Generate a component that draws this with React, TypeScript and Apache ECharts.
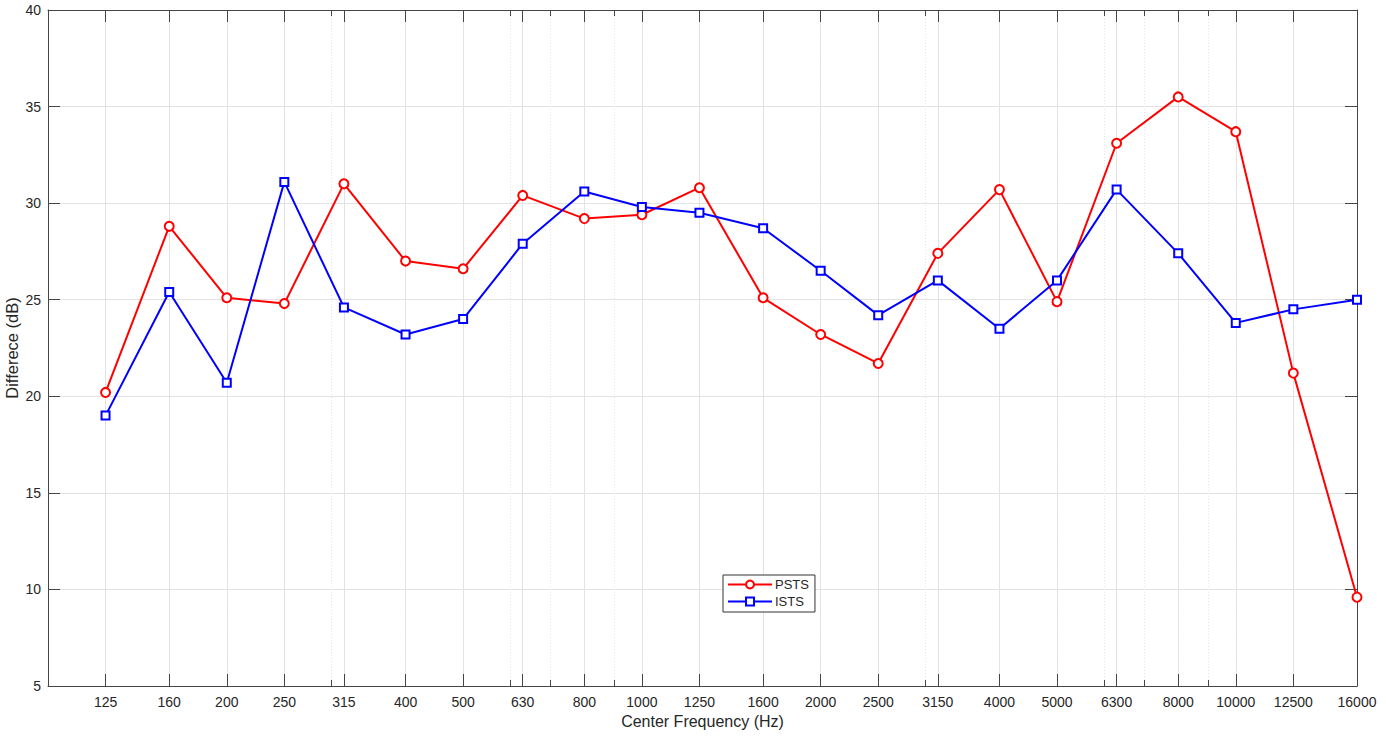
import React, { useEffect, useRef } from 'react';
import * as echarts from 'echarts';

const FREQS = [125, 160, 200, 250, 315, 400, 500, 630, 800, 1000, 1250, 1600, 2000, 2500, 3150, 4000, 5000, 6300, 8000, 10000, 12500, 16000];
const PSTS = [20.2, 28.8, 25.1, 24.8, 31.0, 27.0, 26.6, 30.4, 29.2, 29.4, 30.8, 25.1, 23.2, 21.7, 27.4, 30.7, 24.9, 33.1, 35.5, 33.7, 21.2, 9.6];
const ISTS = [19.0, 25.4, 20.7, 31.1, 24.6, 23.2, 24.0, 27.9, 30.6, 29.8, 29.5, 28.7, 26.5, 24.2, 26.0, 23.5, 26.0, 30.7, 27.4, 23.8, 24.5, 25.0];
const MINOR_FREQS = [100, 200, 300, 400, 500, 600, 700, 800, 900, 1000, 2000, 3000, 4000, 5000, 6000, 7000, 8000, 9000, 10000];
const X_MIN_HZ = 100;
const X_MAX_HZ = 16000;
const Y_MIN = 5;
const Y_MAX = 40;
const Y_STEP = 5;
const Y_NAME = 'Differece (dB)';

const FONT = '"Liberation Sans", Arial, Helvetica, sans-serif';
const TEXT = '#262626';
const AXIS = '#454545';
const GRID = '#e2e2e2';

const lg = (f: number) => Math.log10(f);

export default function App() {
  const ref = useRef<HTMLDivElement>(null);

  useEffect(() => {
    if (!ref.current) return;
    const chart = echarts.init(ref.current, undefined, { renderer: 'svg' });
    const majorVals = FREQS.map(lg);
    const minorVals = MINOR_FREQS.map(lg);
    const xBase = {
      type: 'value' as const,
      min: lg(X_MIN_HZ),
      max: lg(X_MAX_HZ),
      gridIndex: 0,
    };
    chart.setOption({
      animation: false,
      backgroundColor: '#ffffff',
      textStyle: { fontFamily: FONT },
      grid: { left: 48, right: 29, top: 10, bottom: 55, containLabel: false, outerBoundsMode: 'none' },
      graphic: [
        {
          type: 'text',
          x: 12,
          y: 348,
          rotation: Math.PI / 2,
          style: {
            text: Y_NAME,
            fontFamily: FONT,
            fontSize: 16.5,
            fill: TEXT,
            textAlign: 'center',
            textVerticalAlign: 'middle',
          },
        },
      ],
      legend: {
        show: true,
        left: 723,
        top: 575,
        orient: 'vertical',
        data: ['PSTS', 'ISTS'],
        backgroundColor: '#ffffff',
        borderColor: '#333333',
        borderWidth: 1,
        borderRadius: 0,
        padding: [3, 6, 4, 4],
        itemGap: 4,
        itemWidth: 44,
        itemHeight: 10,
        textStyle: { fontFamily: FONT, fontSize: 13, color: TEXT, padding: [0, 0, 0, -2] },
      },
      xAxis: [
        {
          ...xBase,
          position: 'bottom',
          name: 'Center Frequency (Hz)',
          nameLocation: 'middle',
          nameGap: 27,
          nameTextStyle: { fontFamily: FONT, fontSize: 16, color: TEXT },
          axisLine: { show: true, lineStyle: { color: AXIS, width: 1 } },
          axisTick: { show: true, inside: true, length: 12, customValues: majorVals, lineStyle: { color: AXIS } },
          axisLabel: {
            show: true,
            customValues: majorVals,
            margin: 9,
            fontFamily: FONT,
            fontSize: 14,
            color: TEXT,
            formatter: (v: number) => String(Math.round(Math.pow(10, v))),
          },
          splitLine: { show: true, lineStyle: { color: GRID, width: 1 } },
        },
        {
          ...xBase,
          position: 'top',
          axisLine: { show: true, lineStyle: { color: AXIS, width: 1 } },
          axisTick: { show: true, inside: true, length: 12, customValues: majorVals, lineStyle: { color: AXIS } },
          axisLabel: { show: false },
          splitLine: { show: false },
        },
        {
          ...xBase,
          position: 'bottom',
          axisLine: { show: false },
          axisTick: { show: true, inside: true, length: 6, customValues: minorVals, lineStyle: { color: AXIS } },
          axisLabel: { show: false },
          splitLine: { show: true, lineStyle: { color: '#e6e6e6', width: 1, type: [1, 2] } },
        },
        {
          ...xBase,
          position: 'top',
          axisLine: { show: false },
          axisTick: { show: true, inside: true, length: 6, customValues: minorVals, lineStyle: { color: AXIS } },
          axisLabel: { show: false },
          splitLine: { show: false },
        },
      ],
      yAxis: [
        {
          type: 'value',
          position: 'left',
          min: Y_MIN,
          max: Y_MAX,
          interval: Y_STEP,
          axisLine: { show: true, lineStyle: { color: AXIS, width: 1 } },
          axisTick: { show: true, inside: true, length: 12, lineStyle: { color: AXIS } },
          axisLabel: { show: true, margin: 7, fontFamily: FONT, fontSize: 14, color: TEXT },
          splitLine: { show: true, lineStyle: { color: GRID, width: 1 } },
        },
        {
          type: 'value',
          position: 'right',
          min: Y_MIN,
          max: Y_MAX,
          interval: Y_STEP,
          axisLine: { show: true, lineStyle: { color: AXIS, width: 1 } },
          axisTick: { show: true, inside: true, length: 12, lineStyle: { color: AXIS } },
          axisLabel: { show: false },
          splitLine: { show: false },
        },
      ],
      series: [
        {
          name: 'PSTS',
          type: 'line',
          xAxisIndex: 0,
          yAxisIndex: 0,
          data: FREQS.map((f, i) => [lg(f), PSTS[i]]),
          symbol: 'emptyCircle',
          symbolSize: 9,
          showAllSymbol: true,
          lineStyle: { color: '#ff0000', width: 2 },
          itemStyle: { color: '#ff0000', borderColor: '#ff0000', borderWidth: 1.8 },
          z: 3,
        },
        {
          name: 'ISTS',
          type: 'line',
          xAxisIndex: 0,
          yAxisIndex: 0,
          data: FREQS.map((f, i) => [lg(f), ISTS[i]]),
          symbol: 'emptyRect',
          symbolSize: 8,
          showAllSymbol: true,
          lineStyle: { color: '#0000ff', width: 2 },
          itemStyle: { color: '#0000ff', borderColor: '#0000ff', borderWidth: 1.8 },
          z: 4,
        },
      ],
    });
    return () => chart.dispose();
  }, []);

  return (
    <div
      ref={ref}
      style={{ position: 'fixed', left: 0, top: 0, width: 1386, height: 741, background: '#ffffff' }}
    />
  );
}
